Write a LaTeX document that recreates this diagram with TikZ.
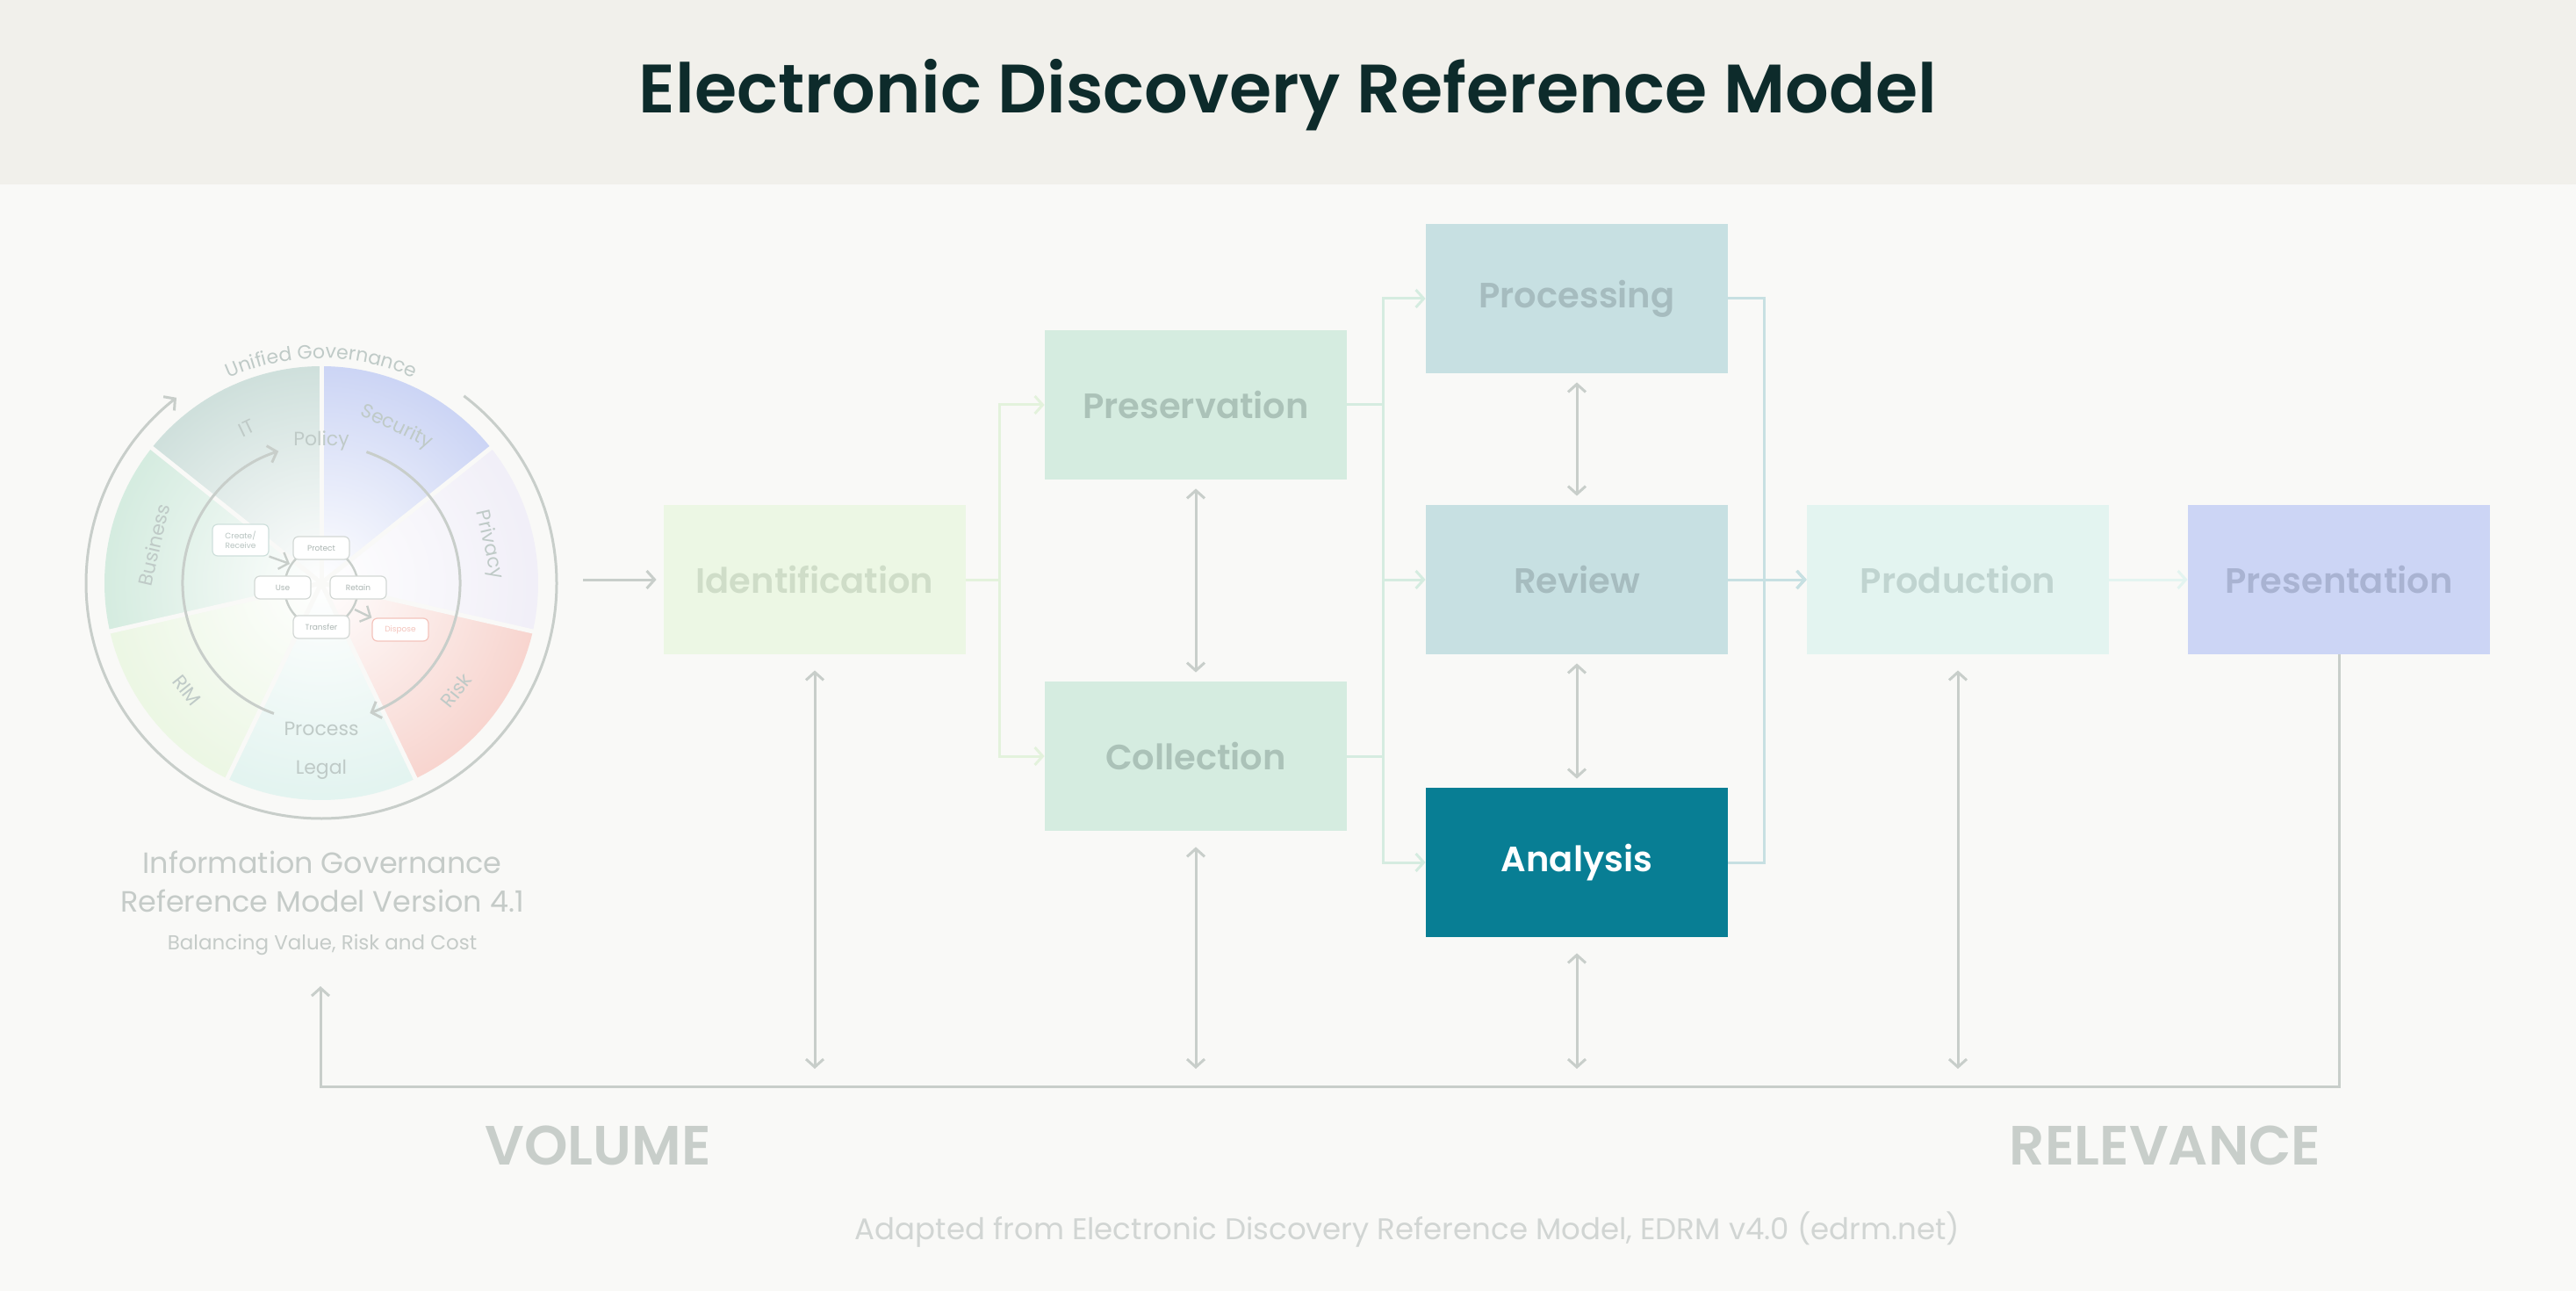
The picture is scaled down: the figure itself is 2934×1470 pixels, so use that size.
\documentclass[tikz,border=0pt]{standalone}
\usepackage{fontspec}
\setmainfont{Poppins}[BoldFont={Poppins SemiBold}]
\usetikzlibrary{arrows.meta,fadings,decorations.text,calc}
\definecolor{hdr}{HTML}{F1F0EB}
\definecolor{bgc}{HTML}{F9F9F7}
\definecolor{ttl}{HTML}{0D2B2B}
\definecolor{ggray}{HTML}{C8CECA}
\definecolor{idf}{HTML}{ECF7E4}\definecolor{idt}{HTML}{CFDDC8}
\definecolor{pcf}{HTML}{D5ECE0}\definecolor{pct}{HTML}{ABC2B8}
\definecolor{prf}{HTML}{C7E0E2}\definecolor{prt}{HTML}{A6BCBF}
\definecolor{anf}{HTML}{087E94}
\definecolor{pdf}{HTML}{E3F4F0}\definecolor{pdt}{HTML}{C0D4D0}
\definecolor{psf}{HTML}{CCD5F5}\definecolor{pst}{HTML}{A9B3D2}
\definecolor{cIT}{HTML}{CFE0DC}\definecolor{cSec}{HTML}{CCD5F5}
\definecolor{cPriv}{HTML}{F1EFF8}\definecolor{cRisk}{HTML}{F8D5CF}
\definecolor{cLeg}{HTML}{E3F4F0}\definecolor{cRIM}{HTML}{ECF7E4}
\definecolor{cBus}{HTML}{D5ECE0}
\definecolor{wt}{HTML}{BFCAC7}
\definecolor{capc}{HTML}{C5CBC8}
\definecolor{idl}{HTML}{E3F2DC}
\definecolor{dispc}{HTML}{F4C4BC}
\tikzfading[name=cfade, inner color=transparent!0, outer color=transparent!100]
\tikzset{
  box/.style={minimum width=172pt,minimum height=85pt,inner sep=0pt,font=\fontsize{20}{20}\selectfont\bfseries},
  arr/.style={-{Straight Barb[length=4.5pt,width=10pt]}},
  dbl/.style={{Straight Barb[length=4.5pt,width=10pt]}-{Straight Barb[length=4.5pt,width=10pt]}},
  ln/.style={line width=1.5pt},
  wl/.style={font=\fontsize{11}{11}\selectfont,text=wt},
  sb/.style={draw=ggray!80,line width=0.6pt,fill=white,rounded corners=3pt,minimum width=32pt,minimum height=13pt,inner sep=0pt,font=\fontsize{4.5}{4.5}\selectfont,text=wt!90!black},
}
\begin{document}
\begin{tikzpicture}[x=0.5pt,y=-0.5pt]
\fill[bgc] (0,0) rectangle (2934,1470);
\fill[hdr] (0,0) rectangle (2934,210);
\useasboundingbox (0,0) rectangle (2934,1470);
\node[text=ttl,font=\fontsize{39}{39}\selectfont\bfseries] (title) at (1467,108) {Electronic Discovery Reference Model};

% boxes
\node[box,fill=idf,text=idt] (ident) at (928,660) {Identification};
\node[box,fill=pcf,text=pct] (pres) at (1362,461) {Preservation};
\node[box,fill=pcf,text=pct] (coll) at (1362,861) {Collection};
\node[box,fill=prf,text=prt] (proc) at (1796,340) {Processing};
\node[box,fill=prf,text=prt] (rev) at (1796,660) {Review};
\node[box,fill=anf,text=white] (anal) at (1796,982) {Analysis};
\node[box,fill=pdf,text=pdt] (prod) at (2230,660) {Production};
\node[box,fill=psf,text=pst] (prs) at (2664,660) {Presentation};

% flow connectors
\draw[ln,idl,arr] (ident.east) -- ++(38,0) |- (pres.west);
\draw[ln,idl,arr] (ident.east) -- ++(38,0) |- (coll.west);
\draw[ln,pcf,arr] (pres.east) -- ++(41,0) |- (proc.west);
\draw[ln,pcf,arr] (pres.east) -- ++(41,0) |- (rev.west);
\draw[ln,pcf,arr] (coll.east) -- ++(41,0) |- (anal.west);
\draw[ln,pcf] (coll.east) -- ++(41,0) |- (pres.east);
\draw[ln,prf,arr] (proc.east) -- ++(41,0) |- (prod.west);
\draw[ln,prf,arr] (anal.east) -- ++(41,0) |- (prod.west);
\draw[ln,prf,arr] (rev.east) -- (prod.west);
\draw[ln,pdf,arr] (prod.east) -- (prs.west);

% double arrows between boxes
\draw[ln,ggray,dbl,shorten <=5pt,shorten >=5pt] (pres.south) -- (coll.north);
\draw[ln,ggray,dbl,shorten <=5pt,shorten >=5pt] (proc.south) -- (rev.north);
\draw[ln,ggray,dbl,shorten <=5pt,shorten >=5pt] (rev.south) -- (anal.north);

% bottom line
\coordinate (bl) at (365,1237);
\coordinate (igc) at (365,1123);
\draw[ln,ggray,arr] (prs.south) |- (bl) -- (igc);
\foreach \n in {ident,coll,anal,prod}
  \draw[ln,ggray,dbl,shorten <=9pt,shorten >=10pt] (\n.south) -- (\n.south |- bl);

% wheel
\coordinate (wc) at (366,664);
\coordinate (wce) at (664,660);
\draw[ln,ggray,arr] (wce) -- ([xshift=-4pt]ident.west);
\begin{scope}[shift={(366,664)},y=0.5pt]
  \fill[cSec] (0,0) -- (90:247) arc (90:38.57:247) -- cycle;
  \fill[cPriv] (0,0) -- (38.57:247) arc (38.57:-12.86:247) -- cycle;
  \fill[cRisk] (0,0) -- (-12.86:247) arc (-12.86:-64.29:247) -- cycle;
  \fill[cLeg] (0,0) -- (-64.29:247) arc (-64.29:-115.71:247) -- cycle;
  \fill[cRIM] (0,0) -- (-115.71:247) arc (-115.71:-167.14:247) -- cycle;
  \fill[cBus] (0,0) -- (-167.14:247) arc (-167.14:-218.57:247) -- cycle;
  \fill[cIT] (0,0) -- (-218.57:247) arc (-218.57:-270:247) -- cycle;
  \fill[white,path fading=cfade] (0,0) circle (247);
  \foreach \a in {90,38.57,-12.86,-64.29,-115.71,-167.14,-218.57}
    \draw[bgc,line width=2.5pt] (0,0) -- (\a:249);
  \node[wl,rotate=-25.71] (lsec) at (64.29:197) {Security};
  \node[wl,rotate=-77.14] (lpriv) at (12.86:196) {Privacy};
  \node[wl,rotate=51.43] (lrisk) at (-38.57:196) {Risk};
  \node[wl] (lleg) at (-90:212) {Legal};
  \node[wl,rotate=-51.43] (lrim) at (-141.43:196) {RIM};
  \node[wl,rotate=77.14] (lbus) at (167.14:196) {Business};
  \node[wl,rotate=25.71] (lit) at (115.71:196) {IT};
  \node[wl] (lpol) at (0,162) {Policy};
  \node[wl] (lproc) at (0,-166) {Process};
  \path[decorate,decoration={text along path,text align=center,
     text={|\fontsize{11}{11}\selectfont\color{wt}|Unified Governance}}]
     (150:256) arc (150:30:256);
  \draw[ln,ggray,arr] (52.7:268) arc (52.7:-232:268);
  \draw[ln,ggray,arr] (-110:158) arc (-110:-252:158);
  \draw[ln,ggray,arr] (71:158) arc (71:-69.5:158);
  \draw[ggray,line width=1.2pt] (0,-5) ellipse (42 and 45);
  \node[sb] (protect) at (0,40) {Protect};
  \node[sb] (use) at (-44,-5) {Use};
  \node[sb] (retain) at (42,-5) {Retain};
  \node[sb] (transfer) at (0,-50) {Transfer};
  \node[sb,draw=cIT,text=cIT!70!gray,align=center,font=\fontsize{4.5}{5.5}\selectfont,minimum height=18pt] (create) at (-92,49) {Create/\\Receive};
  \node[sb,draw=dispc,text=dispc] (dispose) at (90,-53) {Dispose};
  \draw[ggray,line width=1.2pt,arr] (create.south east) -- (-36,22);
  \draw[ggray,line width=1.2pt,arr] (38,-30) -- (dispose.north west);
\end{scope}

\node[text=capc,font=\fontsize{16.7}{16.7}\selectfont] (cap1) at (367,982) {Information Governance};
\node[text=capc,font=\fontsize{16.7}{16.7}\selectfont] (cap2) at (367,1026) {Reference Model Version 4.1};
\node[text=capc,font=\fontsize{11.5}{11.5}\selectfont] (cap3) at (367,1076) {Balancing Value, Risk and Cost};

\node[text=ggray,font=\fontsize{31.5}{31.5}\selectfont\bfseries] (vol) at (681,1304) {VOLUME};
\node[text=ggray,font=\fontsize{31.5}{31.5}\selectfont\bfseries] (relv) at (2466,1304) {RELEVANCE};
\node[text=capc!80!white,font=\fontsize{17}{17}\selectfont] (foot) at (1603,1400) {Adapted from Electronic Discovery Reference Model, EDRM v4.0 (edrm.net)};
\end{tikzpicture}
\end{document}
